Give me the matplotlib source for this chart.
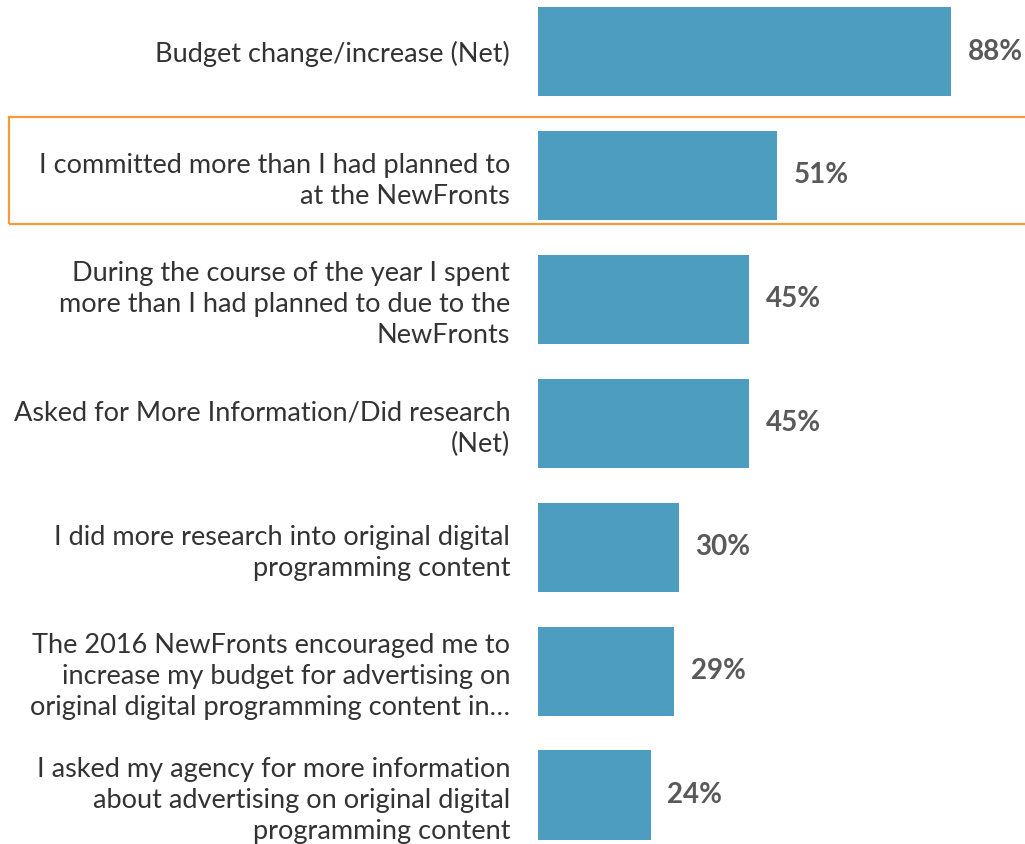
import matplotlib.pyplot as plt
from matplotlib.patches import Rectangle

labels = [
    "Budget change/increase (Net)",
    "I committed more than I had planned to\nat the NewFronts",
    "During the course of the year I spent\nmore than I had planned to due to the\nNewFronts",
    "Asked for More Information/Did research\n(Net)",
    "I did more research into original digital\nprogramming content",
    "The 2016 NewFronts encouraged me to\nincrease my budget for advertising on\noriginal digital programming content in\u2026",
    "I asked my agency for more information\nabout advertising on original digital\nprogramming content",
]
values = [88, 51, 45, 45, 30, 29, 24]

bar_color = "#4C9DC0"
text_color = "#595959"

plt.rcParams['font.family'] = ['Lato', 'DejaVu Sans']

fig = plt.figure(figsize=(10.25, 8.44), dpi=100)
ax = fig.add_axes([538/1025, 0, 1 - 538/1025, 1])

pos = list(range(len(values)))
bars = ax.barh(pos, values, height=0.72, color=bar_color)

ax.set_xlim(0, 103.8)
ax.set_ylim(6.395, -0.416)
ax.set_yticks(pos)
ax.set_yticklabels(labels, fontsize=19.5, color="#333333", linespacing=1.3)
ax.tick_params(axis='y', length=0, pad=20)
ax.set_xticks([])
for s in ax.spines.values():
    s.set_visible(False)

ax.bar_label(bars, labels=[f"{v}%" for v in values], padding=12,
             fontsize=20, fontweight='bold', color=text_color)

# highlight box around the second row
fig.patches.append(Rectangle((9/1025, (844-224)/844), 1.1, 107/844,
                             transform=fig.transFigure, fill=False,
                             edgecolor="#F79A3A", linewidth=1.6))

fig.savefig("out.png", dpi=100)
